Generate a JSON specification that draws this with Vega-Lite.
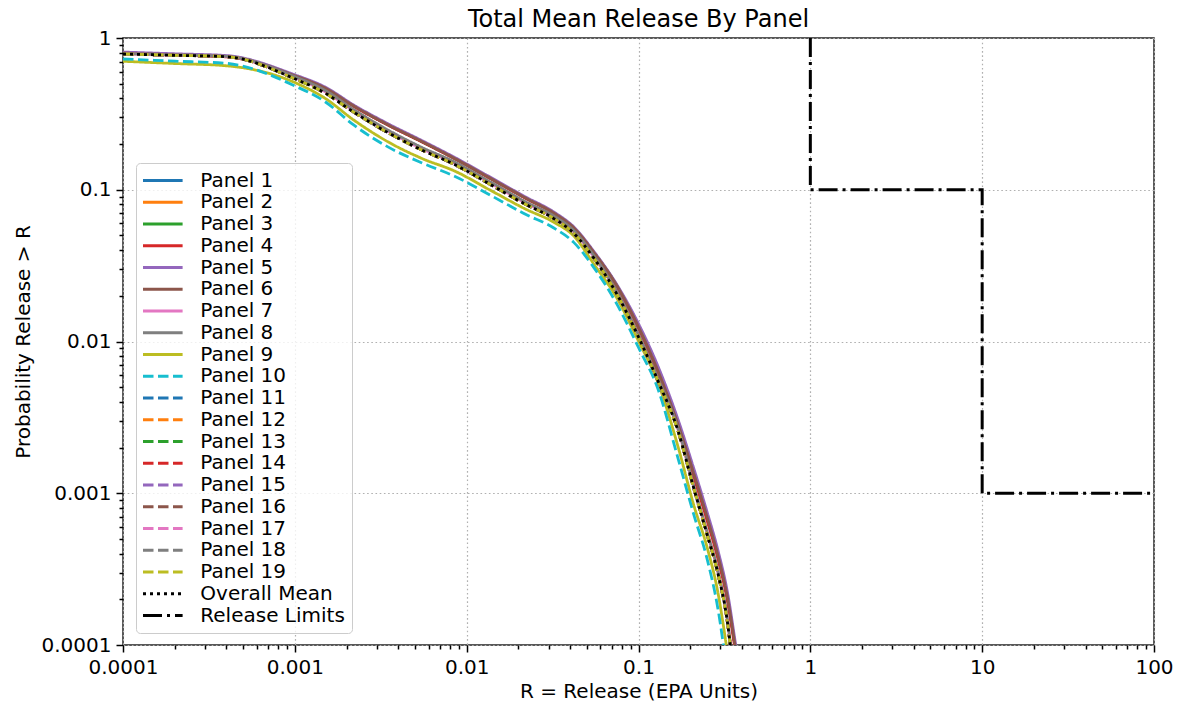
{
"$schema": "https://vega.github.io/schema/vega-lite/v6.json",
"width": 1031,
"height": 607,
"autosize": {"type": "none"},
"padding": {"left": 123, "top": 38, "right": 24, "bottom": 64},
"background": "white",
"title": {"text": "Total Mean Release By Panel", "fontSize": 24, "font": "DejaVu Sans", "fontWeight": "normal", "color": "black", "offset": -4, "anchor": "middle"},
"config": {
  "font": "DejaVu Sans",
  "view": {"stroke": "#222222", "strokeWidth": 1.5},
  "axis": {"domain": false, "tickColor": "black", "tickWidth": 1.5, "labelColor": "black", "labelFontSize": 20, "labelFont": "DejaVu Sans", "titleFontSize": 20, "titleFont": "DejaVu Sans", "titleFontWeight": "normal", "titleColor": "black", "gridColor": "#b0b0b0", "gridDash": [1.6, 2.6], "gridWidth": 1.2, "labelPadding": 5, "labelOverlap": false, "labelFlush": false}
},
"encoding": {
  "x": {"field": "x", "type": "quantitative",
    "scale": {"type": "log", "domain": [0.0001, 100], "nice": false},
    "axis": {"title": "R = Release (EPA Units)", "grid": true, "titlePadding": 4,
      "values": [0.0001,0.0002,0.0003,0.0004,0.0005,0.0006,0.0007,0.0008,0.0009,0.001,0.002,0.003,0.004,0.005,0.006,0.007,0.008,0.009,0.01,0.02,0.03,0.04,0.05,0.06,0.07,0.08,0.09,0.1,0.2,0.3,0.4,0.5,0.6,0.7,0.8,0.9,1,2,3,4,5,6,7,8,9,10,20,30,40,50,60,70,80,90,100],
      "labelExpr": "indexof([0.0001,0.001,0.01,0.1,1,10,100], datum.value) >= 0 ? format(datum.value, '~g') : ''",
      "tickSize": {"condition": {"test": "indexof([0.0001,0.001,0.01,0.1,1,10,100], datum.value) >= 0", "value": 7}, "value": 4},
      "gridOpacity": {"condition": {"test": "indexof([0.0001,0.001,0.01,0.1,1,10,100], datum.value) >= 0", "value": 1}, "value": 0}
    }},
  "y": {"field": "p", "type": "quantitative",
    "scale": {"type": "log", "domain": [0.0001, 1], "nice": false},
    "axis": {"title": "Probability Release > R", "grid": true, "titlePadding": 8,
      "values": [0.0001,0.0002,0.0003,0.0004,0.0005,0.0006,0.0007,0.0008,0.0009,0.001,0.002,0.003,0.004,0.005,0.006,0.007,0.008,0.009,0.01,0.02,0.03,0.04,0.05,0.06,0.07,0.08,0.09,0.1,0.2,0.3,0.4,0.5,0.6,0.7,0.8,0.9,1],
      "labelExpr": "indexof([0.0001,0.001,0.01,0.1,1], datum.value) >= 0 ? format(datum.value, '~g') : ''",
      "tickSize": {"condition": {"test": "indexof([0.0001,0.001,0.01,0.1,1], datum.value) >= 0", "value": 7}, "value": 4},
      "gridOpacity": {"condition": {"test": "indexof([0.0001,0.001,0.01,0.1,1], datum.value) >= 0", "value": 1}, "value": 0}
    }},
  "color": {"field": "s", "type": "nominal",
    "scale": {"domain": ["Panel 1","Panel 2","Panel 3","Panel 4","Panel 5","Panel 6","Panel 7","Panel 8","Panel 9","Panel 10","Panel 11","Panel 12","Panel 13","Panel 14","Panel 15","Panel 16","Panel 17","Panel 18","Panel 19","Overall Mean","Release Limits"],
      "range": ["#1f77b4","#ff7f0e","#2ca02c","#d62728","#9467bd","#8c564b","#e377c2","#7f7f7f","#bcbd22","#17becf","#1f77b4","#ff7f0e","#2ca02c","#d62728","#9467bd","#8c564b","#e377c2","#7f7f7f","#bcbd22","#000000","#000000"]},
    "legend": {"title": null, "orient": "none", "legendX": 13, "legendY": 125, "labelFontSize": 20, "labelFont": "DejaVu Sans", "labelColor": "black", "symbolType": "M-2.2,0H2.2", "symbolSize": 324, "symbolStrokeWidth": 2.8, "symbolOffset": 9.3, "labelOffset": 27, "rowPadding": 0.75, "padding": 7, "fillColor": "rgba(255,255,255,0.8)", "strokeColor": "#cccccc", "cornerRadius": 4, "labelLimit": 300, "symbolLimit": 50}},
  "strokeDash": {"field": "s", "type": "nominal",
    "scale": {"domain": ["Panel 1","Panel 2","Panel 3","Panel 4","Panel 5","Panel 6","Panel 7","Panel 8","Panel 9","Panel 10","Panel 11","Panel 12","Panel 13","Panel 14","Panel 15","Panel 16","Panel 17","Panel 18","Panel 19","Overall Mean","Release Limits"],
      "range": [[1,0],[1,0],[1,0],[1,0],[1,0],[1,0],[1,0],[1,0],[1,0],[10.5,4.5],[10.5,4.5],[10.5,4.5],[10.5,4.5],[10.5,4.5],[10.5,4.5],[10.5,4.5],[10.5,4.5],[10.5,4.5],[10.5,4.5],[3,4],[19,5,3,5]]},
    "legend": {"title": null, "orient": "none", "legendX": 13, "legendY": 125, "labelFontSize": 20, "labelFont": "DejaVu Sans", "labelColor": "black", "symbolType": "M-2.2,0H2.2", "symbolSize": 324, "symbolStrokeWidth": 2.8, "symbolOffset": 9.3, "labelOffset": 27, "rowPadding": 0.75, "padding": 7, "fillColor": "rgba(255,255,255,0.8)", "strokeColor": "#cccccc", "cornerRadius": 4, "labelLimit": 300, "symbolLimit": 50}}
},
"layer": [
{"data": {"values": [
{"s":"Panel 1","x":0.0001,"p":0.796},{"s":"Panel 1","x":0.0002,"p":0.775},{"s":"Panel 1","x":0.0004,"p":0.755},{"s":"Panel 1","x":0.001,"p":0.564},{"s":"Panel 1","x":0.0015,"p":0.468},{"s":"Panel 1","x":0.0022,"p":0.357},{"s":"Panel 1","x":0.0035,"p":0.2676},{"s":"Panel 1","x":0.0055,"p":0.2076},{"s":"Panel 1","x":0.0085,"p":0.1611},{"s":"Panel 1","x":0.014,"p":0.1177},{"s":"Panel 1","x":0.022,"p":0.0884},{"s":"Panel 1","x":0.032,"p":0.0705},{"s":"Panel 1","x":0.042,"p":0.0561},{"s":"Panel 1","x":0.055,"p":0.0386},{"s":"Panel 1","x":0.075,"p":0.0232},{"s":"Panel 1","x":0.1,"p":0.01246},{"s":"Panel 1","x":0.13,"p":0.00637},{"s":"Panel 1","x":0.17,"p":0.002826},{"s":"Panel 1","x":0.21,"p":0.001343},{"s":"Panel 1","x":0.25,"p":0.000703},{"s":"Panel 1","x":0.29,"p":0.000388},{"s":"Panel 1","x":0.33,"p":0.000203},{"s":"Panel 1","x":0.37,"p":0.0000889},{"s":"Panel 1","x":0.42,"p":0.0000356},
{"s":"Panel 2","x":0.0001,"p":0.796},{"s":"Panel 2","x":0.0002,"p":0.775},{"s":"Panel 2","x":0.0004,"p":0.755},{"s":"Panel 2","x":0.001,"p":0.564},{"s":"Panel 2","x":0.0015,"p":0.468},{"s":"Panel 2","x":0.0022,"p":0.357},{"s":"Panel 2","x":0.0035,"p":0.2676},{"s":"Panel 2","x":0.0055,"p":0.2076},{"s":"Panel 2","x":0.0085,"p":0.1611},{"s":"Panel 2","x":0.014,"p":0.1177},{"s":"Panel 2","x":0.022,"p":0.0884},{"s":"Panel 2","x":0.032,"p":0.0705},{"s":"Panel 2","x":0.042,"p":0.0561},{"s":"Panel 2","x":0.055,"p":0.0386},{"s":"Panel 2","x":0.075,"p":0.0232},{"s":"Panel 2","x":0.1,"p":0.01246},{"s":"Panel 2","x":0.13,"p":0.00637},{"s":"Panel 2","x":0.17,"p":0.002826},{"s":"Panel 2","x":0.21,"p":0.001343},{"s":"Panel 2","x":0.25,"p":0.000703},{"s":"Panel 2","x":0.29,"p":0.000388},{"s":"Panel 2","x":0.33,"p":0.000203},{"s":"Panel 2","x":0.37,"p":0.0000889},{"s":"Panel 2","x":0.42,"p":0.0000356},
{"s":"Panel 3","x":0.0001,"p":0.796},{"s":"Panel 3","x":0.0002,"p":0.775},{"s":"Panel 3","x":0.0004,"p":0.755},{"s":"Panel 3","x":0.001,"p":0.564},{"s":"Panel 3","x":0.0015,"p":0.468},{"s":"Panel 3","x":0.0022,"p":0.357},{"s":"Panel 3","x":0.0035,"p":0.2676},{"s":"Panel 3","x":0.0055,"p":0.2076},{"s":"Panel 3","x":0.0085,"p":0.1611},{"s":"Panel 3","x":0.014,"p":0.1177},{"s":"Panel 3","x":0.022,"p":0.0884},{"s":"Panel 3","x":0.032,"p":0.0705},{"s":"Panel 3","x":0.042,"p":0.0561},{"s":"Panel 3","x":0.055,"p":0.0386},{"s":"Panel 3","x":0.075,"p":0.0232},{"s":"Panel 3","x":0.1,"p":0.01246},{"s":"Panel 3","x":0.13,"p":0.00637},{"s":"Panel 3","x":0.17,"p":0.002826},{"s":"Panel 3","x":0.21,"p":0.001343},{"s":"Panel 3","x":0.25,"p":0.000703},{"s":"Panel 3","x":0.29,"p":0.000388},{"s":"Panel 3","x":0.33,"p":0.000203},{"s":"Panel 3","x":0.37,"p":0.0000889},{"s":"Panel 3","x":0.42,"p":0.0000356},
{"s":"Panel 4","x":0.0001,"p":0.792},{"s":"Panel 4","x":0.0002,"p":0.771},{"s":"Panel 4","x":0.0004,"p":0.751},{"s":"Panel 4","x":0.001,"p":0.561},{"s":"Panel 4","x":0.0015,"p":0.465},{"s":"Panel 4","x":0.0022,"p":0.355},{"s":"Panel 4","x":0.0035,"p":0.266},{"s":"Panel 4","x":0.0055,"p":0.2065},{"s":"Panel 4","x":0.0085,"p":0.1603},{"s":"Panel 4","x":0.014,"p":0.1171},{"s":"Panel 4","x":0.022,"p":0.0879},{"s":"Panel 4","x":0.032,"p":0.0701},{"s":"Panel 4","x":0.042,"p":0.0558},{"s":"Panel 4","x":0.055,"p":0.0384},{"s":"Panel 4","x":0.075,"p":0.0229},{"s":"Panel 4","x":0.1,"p":0.0122},{"s":"Panel 4","x":0.13,"p":0.00612},{"s":"Panel 4","x":0.17,"p":0.00269},{"s":"Panel 4","x":0.21,"p":0.001276},{"s":"Panel 4","x":0.25,"p":0.000668},{"s":"Panel 4","x":0.29,"p":0.000369},{"s":"Panel 4","x":0.33,"p":0.000193},{"s":"Panel 4","x":0.37,"p":0.0000845},{"s":"Panel 4","x":0.42,"p":0.0000338},
{"s":"Panel 5","x":0.0001,"p":0.808},{"s":"Panel 5","x":0.0002,"p":0.787},{"s":"Panel 5","x":0.0004,"p":0.766},{"s":"Panel 5","x":0.001,"p":0.572},{"s":"Panel 5","x":0.0015,"p":0.475},{"s":"Panel 5","x":0.0022,"p":0.362},{"s":"Panel 5","x":0.0035,"p":0.2716},{"s":"Panel 5","x":0.0055,"p":0.2107},{"s":"Panel 5","x":0.0085,"p":0.1635},{"s":"Panel 5","x":0.014,"p":0.1195},{"s":"Panel 5","x":0.022,"p":0.0897},{"s":"Panel 5","x":0.032,"p":0.0716},{"s":"Panel 5","x":0.042,"p":0.0569},{"s":"Panel 5","x":0.055,"p":0.0392},{"s":"Panel 5","x":0.075,"p":0.0236},{"s":"Panel 5","x":0.1,"p":0.0131},{"s":"Panel 5","x":0.13,"p":0.00684},{"s":"Panel 5","x":0.17,"p":0.00305},{"s":"Panel 5","x":0.21,"p":0.00145},{"s":"Panel 5","x":0.25,"p":0.00076},{"s":"Panel 5","x":0.29,"p":0.00042},{"s":"Panel 5","x":0.33,"p":0.00022},{"s":"Panel 5","x":0.37,"p":0.000096},{"s":"Panel 5","x":0.42,"p":0.0000385},
{"s":"Panel 6","x":0.0001,"p":0.796},{"s":"Panel 6","x":0.0002,"p":0.775},{"s":"Panel 6","x":0.0004,"p":0.755},{"s":"Panel 6","x":0.001,"p":0.564},{"s":"Panel 6","x":0.0015,"p":0.468},{"s":"Panel 6","x":0.0022,"p":0.357},{"s":"Panel 6","x":0.0035,"p":0.2676},{"s":"Panel 6","x":0.0055,"p":0.2076},{"s":"Panel 6","x":0.0085,"p":0.1611},{"s":"Panel 6","x":0.014,"p":0.1177},{"s":"Panel 6","x":0.022,"p":0.0884},{"s":"Panel 6","x":0.032,"p":0.0705},{"s":"Panel 6","x":0.042,"p":0.0561},{"s":"Panel 6","x":0.055,"p":0.0386},{"s":"Panel 6","x":0.075,"p":0.0232},{"s":"Panel 6","x":0.1,"p":0.01246},{"s":"Panel 6","x":0.13,"p":0.00637},{"s":"Panel 6","x":0.17,"p":0.002826},{"s":"Panel 6","x":0.21,"p":0.001343},{"s":"Panel 6","x":0.25,"p":0.000703},{"s":"Panel 6","x":0.29,"p":0.000388},{"s":"Panel 6","x":0.33,"p":0.000203},{"s":"Panel 6","x":0.37,"p":0.0000889},{"s":"Panel 6","x":0.42,"p":0.0000356},
{"s":"Panel 7","x":0.0001,"p":0.788},{"s":"Panel 7","x":0.0002,"p":0.772},{"s":"Panel 7","x":0.0004,"p":0.756},{"s":"Panel 7","x":0.001,"p":0.549},{"s":"Panel 7","x":0.0015,"p":0.4428},{"s":"Panel 7","x":0.0022,"p":0.3314},{"s":"Panel 7","x":0.0035,"p":0.2419},{"s":"Panel 7","x":0.0055,"p":0.1862},{"s":"Panel 7","x":0.0085,"p":0.1496},{"s":"Panel 7","x":0.014,"p":0.1091},{"s":"Panel 7","x":0.022,"p":0.0818},{"s":"Panel 7","x":0.032,"p":0.0661},{"s":"Panel 7","x":0.042,"p":0.0527},{"s":"Panel 7","x":0.055,"p":0.0361},{"s":"Panel 7","x":0.075,"p":0.02085},{"s":"Panel 7","x":0.1,"p":0.01092},{"s":"Panel 7","x":0.13,"p":0.00559},{"s":"Panel 7","x":0.17,"p":0.00262},{"s":"Panel 7","x":0.21,"p":0.001094},{"s":"Panel 7","x":0.25,"p":0.000553},{"s":"Panel 7","x":0.29,"p":0.000301},{"s":"Panel 7","x":0.33,"p":0.000142},{"s":"Panel 7","x":0.37,"p":0.0000438},{"s":"Panel 7","x":0.42,"p":0.0000122},
{"s":"Panel 8","x":0.0001,"p":0.79},{"s":"Panel 8","x":0.0002,"p":0.775},{"s":"Panel 8","x":0.0004,"p":0.758},{"s":"Panel 8","x":0.001,"p":0.556},{"s":"Panel 8","x":0.0015,"p":0.4515},{"s":"Panel 8","x":0.0022,"p":0.3379},{"s":"Panel 8","x":0.0035,"p":0.2467},{"s":"Panel 8","x":0.0055,"p":0.1898},{"s":"Panel 8","x":0.0085,"p":0.1526},{"s":"Panel 8","x":0.014,"p":0.1113},{"s":"Panel 8","x":0.022,"p":0.0834},{"s":"Panel 8","x":0.032,"p":0.0674},{"s":"Panel 8","x":0.042,"p":0.0538},{"s":"Panel 8","x":0.055,"p":0.0368},{"s":"Panel 8","x":0.075,"p":0.02126},{"s":"Panel 8","x":0.1,"p":0.01114},{"s":"Panel 8","x":0.13,"p":0.0057},{"s":"Panel 8","x":0.17,"p":0.00267},{"s":"Panel 8","x":0.21,"p":0.001116},{"s":"Panel 8","x":0.25,"p":0.000564},{"s":"Panel 8","x":0.29,"p":0.000307},{"s":"Panel 8","x":0.33,"p":0.000145},{"s":"Panel 8","x":0.37,"p":0.0000446},{"s":"Panel 8","x":0.42,"p":0.0000125},
{"s":"Panel 9","x":0.0001,"p":0.7023},{"s":"Panel 9","x":0.0002,"p":0.679},{"s":"Panel 9","x":0.0004,"p":0.656},{"s":"Panel 9","x":0.001,"p":0.5087},{"s":"Panel 9","x":0.0015,"p":0.4005},{"s":"Panel 9","x":0.0022,"p":0.2882},{"s":"Panel 9","x":0.0035,"p":0.2064},{"s":"Panel 9","x":0.0055,"p":0.1606},{"s":"Panel 9","x":0.0085,"p":0.1329},{"s":"Panel 9","x":0.014,"p":0.0981},{"s":"Panel 9","x":0.022,"p":0.0746},{"s":"Panel 9","x":0.032,"p":0.0613},{"s":"Panel 9","x":0.042,"p":0.0496},{"s":"Panel 9","x":0.055,"p":0.0324},{"s":"Panel 9","x":0.075,"p":0.01923},{"s":"Panel 9","x":0.1,"p":0.01006},{"s":"Panel 9","x":0.13,"p":0.00534},{"s":"Panel 9","x":0.17,"p":0.00202},{"s":"Panel 9","x":0.21,"p":0.00083},{"s":"Panel 9","x":0.25,"p":0.000446},{"s":"Panel 9","x":0.29,"p":0.000221},{"s":"Panel 9","x":0.33,"p":0.0000874},{"s":"Panel 9","x":0.37,"p":0.000035},{"s":"Panel 9","x":0.42,"p":0.00001},
{"s":"Panel 10","x":0.0001,"p":0.7271},{"s":"Panel 10","x":0.0002,"p":0.7035},{"s":"Panel 10","x":0.0004,"p":0.6804},{"s":"Panel 10","x":0.001,"p":0.4834},{"s":"Panel 10","x":0.0015,"p":0.3803},{"s":"Panel 10","x":0.0022,"p":0.2672},{"s":"Panel 10","x":0.0035,"p":0.191},{"s":"Panel 10","x":0.0055,"p":0.1501},{"s":"Panel 10","x":0.0085,"p":0.1228},{"s":"Panel 10","x":0.014,"p":0.091},{"s":"Panel 10","x":0.022,"p":0.0689},{"s":"Panel 10","x":0.032,"p":0.0562},{"s":"Panel 10","x":0.042,"p":0.045},{"s":"Panel 10","x":0.055,"p":0.0307},{"s":"Panel 10","x":0.075,"p":0.01756},{"s":"Panel 10","x":0.1,"p":0.00913},{"s":"Panel 10","x":0.13,"p":0.00484},{"s":"Panel 10","x":0.17,"p":0.00169},{"s":"Panel 10","x":0.21,"p":0.00072},{"s":"Panel 10","x":0.25,"p":0.000374},{"s":"Panel 10","x":0.29,"p":0.000173},{"s":"Panel 10","x":0.33,"p":0.0000634},{"s":"Panel 10","x":0.37,"p":0.0000255},{"s":"Panel 10","x":0.42,"p":0.00001},
{"s":"Panel 11","x":0.0001,"p":0.7844},{"s":"Panel 11","x":0.0002,"p":0.7691},{"s":"Panel 11","x":0.0004,"p":0.7528},{"s":"Panel 11","x":0.001,"p":0.5385},{"s":"Panel 11","x":0.0015,"p":0.4341},{"s":"Panel 11","x":0.0022,"p":0.3249},{"s":"Panel 11","x":0.0035,"p":0.2372},{"s":"Panel 11","x":0.0055,"p":0.1825},{"s":"Panel 11","x":0.0085,"p":0.1467},{"s":"Panel 11","x":0.014,"p":0.107},{"s":"Panel 11","x":0.022,"p":0.0802},{"s":"Panel 11","x":0.032,"p":0.0648},{"s":"Panel 11","x":0.042,"p":0.0517},{"s":"Panel 11","x":0.055,"p":0.0354},{"s":"Panel 11","x":0.075,"p":0.02044},{"s":"Panel 11","x":0.1,"p":0.01071},{"s":"Panel 11","x":0.13,"p":0.00548},{"s":"Panel 11","x":0.17,"p":0.00257},{"s":"Panel 11","x":0.21,"p":0.001073},{"s":"Panel 11","x":0.25,"p":0.000542},{"s":"Panel 11","x":0.29,"p":0.000295},{"s":"Panel 11","x":0.33,"p":0.000139},{"s":"Panel 11","x":0.37,"p":0.0000429},{"s":"Panel 11","x":0.42,"p":0.000012},
{"s":"Panel 12","x":0.0001,"p":0.7844},{"s":"Panel 12","x":0.0002,"p":0.7691},{"s":"Panel 12","x":0.0004,"p":0.7528},{"s":"Panel 12","x":0.001,"p":0.5385},{"s":"Panel 12","x":0.0015,"p":0.4341},{"s":"Panel 12","x":0.0022,"p":0.3249},{"s":"Panel 12","x":0.0035,"p":0.2372},{"s":"Panel 12","x":0.0055,"p":0.1825},{"s":"Panel 12","x":0.0085,"p":0.1467},{"s":"Panel 12","x":0.014,"p":0.107},{"s":"Panel 12","x":0.022,"p":0.0802},{"s":"Panel 12","x":0.032,"p":0.0648},{"s":"Panel 12","x":0.042,"p":0.0517},{"s":"Panel 12","x":0.055,"p":0.0354},{"s":"Panel 12","x":0.075,"p":0.02044},{"s":"Panel 12","x":0.1,"p":0.01071},{"s":"Panel 12","x":0.13,"p":0.00548},{"s":"Panel 12","x":0.17,"p":0.00257},{"s":"Panel 12","x":0.21,"p":0.001073},{"s":"Panel 12","x":0.25,"p":0.000542},{"s":"Panel 12","x":0.29,"p":0.000295},{"s":"Panel 12","x":0.33,"p":0.000139},{"s":"Panel 12","x":0.37,"p":0.0000429},{"s":"Panel 12","x":0.42,"p":0.000012},
{"s":"Panel 13","x":0.0001,"p":0.7844},{"s":"Panel 13","x":0.0002,"p":0.7691},{"s":"Panel 13","x":0.0004,"p":0.7528},{"s":"Panel 13","x":0.001,"p":0.5385},{"s":"Panel 13","x":0.0015,"p":0.4341},{"s":"Panel 13","x":0.0022,"p":0.3249},{"s":"Panel 13","x":0.0035,"p":0.2372},{"s":"Panel 13","x":0.0055,"p":0.1825},{"s":"Panel 13","x":0.0085,"p":0.1467},{"s":"Panel 13","x":0.014,"p":0.107},{"s":"Panel 13","x":0.022,"p":0.0802},{"s":"Panel 13","x":0.032,"p":0.0648},{"s":"Panel 13","x":0.042,"p":0.0517},{"s":"Panel 13","x":0.055,"p":0.0354},{"s":"Panel 13","x":0.075,"p":0.02044},{"s":"Panel 13","x":0.1,"p":0.01071},{"s":"Panel 13","x":0.13,"p":0.00548},{"s":"Panel 13","x":0.17,"p":0.00257},{"s":"Panel 13","x":0.21,"p":0.001073},{"s":"Panel 13","x":0.25,"p":0.000542},{"s":"Panel 13","x":0.29,"p":0.000295},{"s":"Panel 13","x":0.33,"p":0.000139},{"s":"Panel 13","x":0.37,"p":0.0000429},{"s":"Panel 13","x":0.42,"p":0.000012},
{"s":"Panel 14","x":0.0001,"p":0.7844},{"s":"Panel 14","x":0.0002,"p":0.7691},{"s":"Panel 14","x":0.0004,"p":0.7528},{"s":"Panel 14","x":0.001,"p":0.5385},{"s":"Panel 14","x":0.0015,"p":0.4341},{"s":"Panel 14","x":0.0022,"p":0.3249},{"s":"Panel 14","x":0.0035,"p":0.2372},{"s":"Panel 14","x":0.0055,"p":0.1825},{"s":"Panel 14","x":0.0085,"p":0.1467},{"s":"Panel 14","x":0.014,"p":0.107},{"s":"Panel 14","x":0.022,"p":0.0802},{"s":"Panel 14","x":0.032,"p":0.0648},{"s":"Panel 14","x":0.042,"p":0.0517},{"s":"Panel 14","x":0.055,"p":0.0354},{"s":"Panel 14","x":0.075,"p":0.02044},{"s":"Panel 14","x":0.1,"p":0.01071},{"s":"Panel 14","x":0.13,"p":0.00548},{"s":"Panel 14","x":0.17,"p":0.00257},{"s":"Panel 14","x":0.21,"p":0.001073},{"s":"Panel 14","x":0.25,"p":0.000542},{"s":"Panel 14","x":0.29,"p":0.000295},{"s":"Panel 14","x":0.33,"p":0.000139},{"s":"Panel 14","x":0.37,"p":0.0000429},{"s":"Panel 14","x":0.42,"p":0.000012},
{"s":"Panel 15","x":0.0001,"p":0.7844},{"s":"Panel 15","x":0.0002,"p":0.7691},{"s":"Panel 15","x":0.0004,"p":0.7528},{"s":"Panel 15","x":0.001,"p":0.5385},{"s":"Panel 15","x":0.0015,"p":0.4341},{"s":"Panel 15","x":0.0022,"p":0.3249},{"s":"Panel 15","x":0.0035,"p":0.2372},{"s":"Panel 15","x":0.0055,"p":0.1825},{"s":"Panel 15","x":0.0085,"p":0.1467},{"s":"Panel 15","x":0.014,"p":0.107},{"s":"Panel 15","x":0.022,"p":0.0802},{"s":"Panel 15","x":0.032,"p":0.0648},{"s":"Panel 15","x":0.042,"p":0.0517},{"s":"Panel 15","x":0.055,"p":0.0354},{"s":"Panel 15","x":0.075,"p":0.02044},{"s":"Panel 15","x":0.1,"p":0.01071},{"s":"Panel 15","x":0.13,"p":0.00548},{"s":"Panel 15","x":0.17,"p":0.00257},{"s":"Panel 15","x":0.21,"p":0.001073},{"s":"Panel 15","x":0.25,"p":0.000542},{"s":"Panel 15","x":0.29,"p":0.000295},{"s":"Panel 15","x":0.33,"p":0.000139},{"s":"Panel 15","x":0.37,"p":0.0000429},{"s":"Panel 15","x":0.42,"p":0.000012},
{"s":"Panel 16","x":0.0001,"p":0.7844},{"s":"Panel 16","x":0.0002,"p":0.7691},{"s":"Panel 16","x":0.0004,"p":0.7528},{"s":"Panel 16","x":0.001,"p":0.5385},{"s":"Panel 16","x":0.0015,"p":0.4341},{"s":"Panel 16","x":0.0022,"p":0.3249},{"s":"Panel 16","x":0.0035,"p":0.2372},{"s":"Panel 16","x":0.0055,"p":0.1825},{"s":"Panel 16","x":0.0085,"p":0.1467},{"s":"Panel 16","x":0.014,"p":0.107},{"s":"Panel 16","x":0.022,"p":0.0802},{"s":"Panel 16","x":0.032,"p":0.0648},{"s":"Panel 16","x":0.042,"p":0.0517},{"s":"Panel 16","x":0.055,"p":0.0354},{"s":"Panel 16","x":0.075,"p":0.02044},{"s":"Panel 16","x":0.1,"p":0.01071},{"s":"Panel 16","x":0.13,"p":0.00548},{"s":"Panel 16","x":0.17,"p":0.00257},{"s":"Panel 16","x":0.21,"p":0.001073},{"s":"Panel 16","x":0.25,"p":0.000542},{"s":"Panel 16","x":0.29,"p":0.000295},{"s":"Panel 16","x":0.33,"p":0.000139},{"s":"Panel 16","x":0.37,"p":0.0000429},{"s":"Panel 16","x":0.42,"p":0.000012},
{"s":"Panel 17","x":0.0001,"p":0.7844},{"s":"Panel 17","x":0.0002,"p":0.7691},{"s":"Panel 17","x":0.0004,"p":0.7528},{"s":"Panel 17","x":0.001,"p":0.5385},{"s":"Panel 17","x":0.0015,"p":0.4341},{"s":"Panel 17","x":0.0022,"p":0.3249},{"s":"Panel 17","x":0.0035,"p":0.2372},{"s":"Panel 17","x":0.0055,"p":0.1825},{"s":"Panel 17","x":0.0085,"p":0.1467},{"s":"Panel 17","x":0.014,"p":0.107},{"s":"Panel 17","x":0.022,"p":0.0802},{"s":"Panel 17","x":0.032,"p":0.0648},{"s":"Panel 17","x":0.042,"p":0.0517},{"s":"Panel 17","x":0.055,"p":0.0354},{"s":"Panel 17","x":0.075,"p":0.02044},{"s":"Panel 17","x":0.1,"p":0.01071},{"s":"Panel 17","x":0.13,"p":0.00548},{"s":"Panel 17","x":0.17,"p":0.00257},{"s":"Panel 17","x":0.21,"p":0.001073},{"s":"Panel 17","x":0.25,"p":0.000542},{"s":"Panel 17","x":0.29,"p":0.000295},{"s":"Panel 17","x":0.33,"p":0.000139},{"s":"Panel 17","x":0.37,"p":0.0000429},{"s":"Panel 17","x":0.42,"p":0.000012},
{"s":"Panel 18","x":0.0001,"p":0.7844},{"s":"Panel 18","x":0.0002,"p":0.7691},{"s":"Panel 18","x":0.0004,"p":0.7528},{"s":"Panel 18","x":0.001,"p":0.5385},{"s":"Panel 18","x":0.0015,"p":0.4341},{"s":"Panel 18","x":0.0022,"p":0.3249},{"s":"Panel 18","x":0.0035,"p":0.2372},{"s":"Panel 18","x":0.0055,"p":0.1825},{"s":"Panel 18","x":0.0085,"p":0.1467},{"s":"Panel 18","x":0.014,"p":0.107},{"s":"Panel 18","x":0.022,"p":0.0802},{"s":"Panel 18","x":0.032,"p":0.0648},{"s":"Panel 18","x":0.042,"p":0.0517},{"s":"Panel 18","x":0.055,"p":0.0354},{"s":"Panel 18","x":0.075,"p":0.02044},{"s":"Panel 18","x":0.1,"p":0.01071},{"s":"Panel 18","x":0.13,"p":0.00548},{"s":"Panel 18","x":0.17,"p":0.00257},{"s":"Panel 18","x":0.21,"p":0.001073},{"s":"Panel 18","x":0.25,"p":0.000542},{"s":"Panel 18","x":0.29,"p":0.000295},{"s":"Panel 18","x":0.33,"p":0.000139},{"s":"Panel 18","x":0.37,"p":0.0000429},{"s":"Panel 18","x":0.42,"p":0.000012},
{"s":"Panel 19","x":0.0001,"p":0.7844},{"s":"Panel 19","x":0.0002,"p":0.7691},{"s":"Panel 19","x":0.0004,"p":0.7528},{"s":"Panel 19","x":0.001,"p":0.5385},{"s":"Panel 19","x":0.0015,"p":0.4341},{"s":"Panel 19","x":0.0022,"p":0.3249},{"s":"Panel 19","x":0.0035,"p":0.2372},{"s":"Panel 19","x":0.0055,"p":0.1825},{"s":"Panel 19","x":0.0085,"p":0.1467},{"s":"Panel 19","x":0.014,"p":0.107},{"s":"Panel 19","x":0.022,"p":0.0802},{"s":"Panel 19","x":0.032,"p":0.0648},{"s":"Panel 19","x":0.042,"p":0.0517},{"s":"Panel 19","x":0.055,"p":0.0354},{"s":"Panel 19","x":0.075,"p":0.02044},{"s":"Panel 19","x":0.1,"p":0.01071},{"s":"Panel 19","x":0.13,"p":0.00548},{"s":"Panel 19","x":0.17,"p":0.00257},{"s":"Panel 19","x":0.21,"p":0.001073},{"s":"Panel 19","x":0.25,"p":0.000542},{"s":"Panel 19","x":0.29,"p":0.000295},{"s":"Panel 19","x":0.33,"p":0.000139},{"s":"Panel 19","x":0.37,"p":0.0000429},{"s":"Panel 19","x":0.42,"p":0.000012},
{"s":"Overall Mean","x":0.0001,"p":0.7844},{"s":"Overall Mean","x":0.0002,"p":0.7691},{"s":"Overall Mean","x":0.0004,"p":0.7528},{"s":"Overall Mean","x":0.001,"p":0.5385},{"s":"Overall Mean","x":0.0015,"p":0.4341},{"s":"Overall Mean","x":0.0022,"p":0.3249},{"s":"Overall Mean","x":0.0035,"p":0.2372},{"s":"Overall Mean","x":0.0055,"p":0.1825},{"s":"Overall Mean","x":0.0085,"p":0.1467},{"s":"Overall Mean","x":0.014,"p":0.107},{"s":"Overall Mean","x":0.022,"p":0.0802},{"s":"Overall Mean","x":0.032,"p":0.0648},{"s":"Overall Mean","x":0.042,"p":0.0517},{"s":"Overall Mean","x":0.055,"p":0.0354},{"s":"Overall Mean","x":0.075,"p":0.02044},{"s":"Overall Mean","x":0.1,"p":0.01071},{"s":"Overall Mean","x":0.13,"p":0.00548},{"s":"Overall Mean","x":0.17,"p":0.00257},{"s":"Overall Mean","x":0.21,"p":0.001073},{"s":"Overall Mean","x":0.25,"p":0.000542},{"s":"Overall Mean","x":0.29,"p":0.000295},{"s":"Overall Mean","x":0.33,"p":0.000139},{"s":"Overall Mean","x":0.37,"p":0.0000429},{"s":"Overall Mean","x":0.42,"p":0.000012}
]},
"mark": {"type": "line", "interpolate": "monotone", "clip": true, "strokeWidth": 2.8}},
{"data": {"values": [
{"s":"Release Limits","x":1,"p":1,"i":1},{"s":"Release Limits","x":1,"p":0.1,"i":2},{"s":"Release Limits","x":10,"p":0.1,"i":3},{"s":"Release Limits","x":10,"p":0.001,"i":4},{"s":"Release Limits","x":100,"p":0.001,"i":5}
]},
"mark": {"type": "line", "clip": true, "strokeWidth": 3},
"encoding": {"order": {"field": "i", "type": "quantitative"}}}
]
}
